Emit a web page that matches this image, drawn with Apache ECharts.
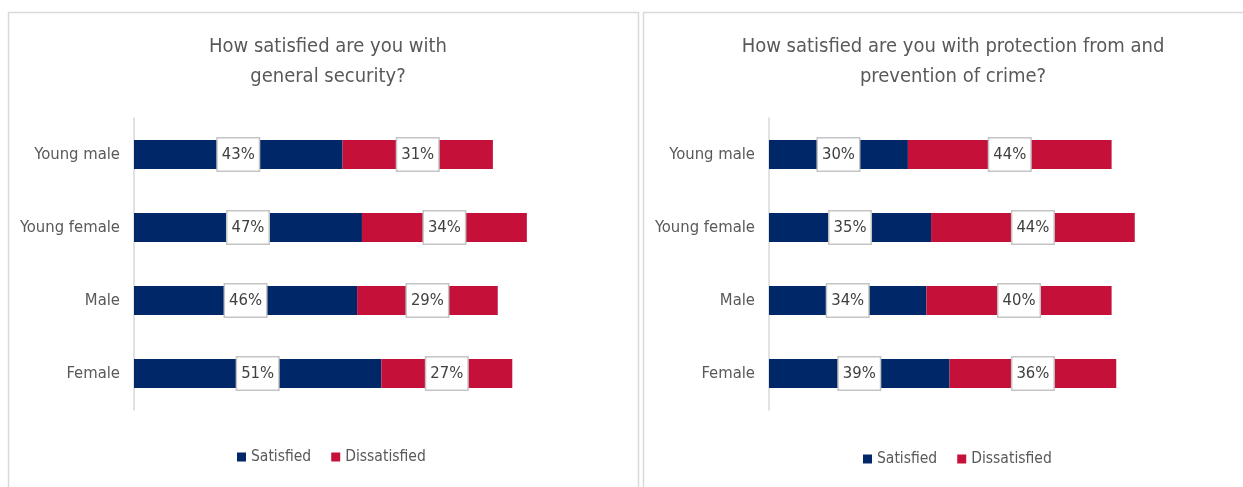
<!DOCTYPE html>
<html>
<head>
<meta charset="utf-8">
<script src="https://cdn.jsdelivr.net/npm/echarts@6/dist/echarts.min.js"></script>
<style>
  html, body { margin: 0; padding: 0; background: #ffffff; }
  #chart { width: 1243px; height: 487px; }
</style>
</head>
<body>
<div id="chart"></div>
<script>
// Survey groups (top to bottom)
const categories = ['Young male', 'Young female', 'Male', 'Female'];

// Satisfaction with general security (%)
const securitySatisfied = [43, 47, 46, 51];
const securityDissatisfied = [31, 34, 29, 27];

// Satisfaction with protection from and prevention of crime (%)
const crimeSatisfied = [30, 35, 34, 39];
const crimeDissatisfied = [44, 44, 40, 36];

const seriesNames = ['Satisfied', 'Dissatisfied'];
const titles = [
  'How satisfied are you with\ngeneral security?',
  'How satisfied are you with protection from and\nprevention of crime?'
];

const FONT = '"Liberation Sans Narrow", "DejaVu Sans Condensed", "Open Sans", sans-serif';
const NAVY = '#002868';
const RED = '#c5113a';
const TEXT = '#595959';

const chart = echarts.init(document.getElementById('chart'), null, { renderer: 'canvas' });

const barLabel = {
  show: true,
  position: 'inside',
  formatter: '{c}%',
  color: '#404040',
  fontFamily: FONT,
  fontSize: 16.5,
  backgroundColor: '#ffffff',
  borderColor: '#c4c4c4',
  borderWidth: 1.5,
  padding: [8, 4, 7, 4]
};

function barSeries(name, data, idx, color) {
  return {
    name: name,
    type: 'bar',
    stack: 'panel' + idx,
    xAxisIndex: idx,
    yAxisIndex: idx,
    data: data,
    barWidth: 29,
    itemStyle: { color: color },
    label: barLabel,
    emphasis: { disabled: true },
    animation: false
  };
}

function yAxis(idx) {
  return {
    type: 'category',
    gridIndex: idx,
    data: categories,
    inverse: true,
    axisLine: { show: true, lineStyle: { color: '#d9d9d9', width: 1.5 } },
    axisTick: { show: false },
    axisLabel: { color: TEXT, fontFamily: FONT, fontSize: 16.5, margin: 14 }
  };
}

function xAxis(idx) {
  return {
    type: 'value',
    gridIndex: idx,
    min: 0,
    max: 100,
    show: false,
    splitLine: { show: false }
  };
}

const legendText = { color: TEXT, fontFamily: FONT, fontSize: 15.5 };

const option = {
  backgroundColor: '#ffffff',
  animation: false,
  graphic: [
    { type: 'rect', shape: { x: 8.5, y: 12.5, width: 630, height: 500 },
      style: { fill: 'none', stroke: '#d9d9d9', lineWidth: 1.5 }, silent: true },
    { type: 'rect', shape: { x: 643.5, y: 12.5, width: 620, height: 500 },
      style: { fill: 'none', stroke: '#d9d9d9', lineWidth: 1.5 }, silent: true }
  ],
  title: [
    { text: titles[0], left: 323, top: 27, textAlign: 'center',
      textStyle: { color: TEXT, fontFamily: FONT, fontSize: 20, fontWeight: 'normal', lineHeight: 30 } },
    { text: titles[1], left: 948, top: 27, textAlign: 'center',
      textStyle: { color: TEXT, fontFamily: FONT, fontSize: 20, fontWeight: 'normal', lineHeight: 30 } }
  ],
  legend: [
    { data: seriesNames, left: 232, top: 444, itemWidth: 9, itemHeight: 9, itemGap: 20,
      icon: 'rect', selectedMode: false, textStyle: legendText },
    { data: seriesNames, left: 858, top: 446, itemWidth: 9, itemHeight: 9, itemGap: 20,
      icon: 'rect', selectedMode: false, textStyle: legendText }
  ],
  grid: [
    { left: 134, top: 118, width: 485, height: 292 },
    { left: 769, top: 118, width: 463, height: 292 }
  ],
  xAxis: [xAxis(0), xAxis(1)],
  yAxis: [yAxis(0), yAxis(1)],
  series: [
    barSeries(seriesNames[0], securitySatisfied, 0, NAVY),
    barSeries(seriesNames[1], securityDissatisfied, 0, RED),
    barSeries(seriesNames[0], crimeSatisfied, 1, NAVY),
    barSeries(seriesNames[1], crimeDissatisfied, 1, RED)
  ]
};

chart.setOption(option);
</script>
</body>
</html>
